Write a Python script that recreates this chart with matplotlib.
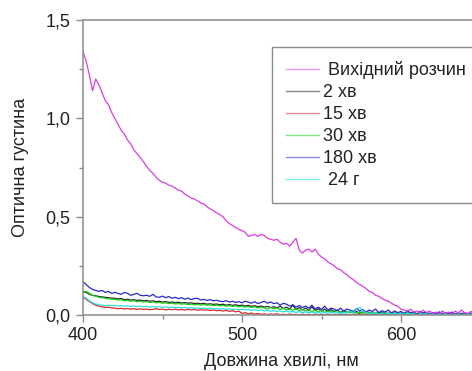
'''
Absorption spectra of the solution over time
'''

import matplotlib
matplotlib.use("Agg")
import matplotlib.pyplot as plt
from matplotlib.ticker import MultipleLocator, FuncFormatter
import numpy as np

##########################################
# data (step 2 nm)

wavelength = np.arange(400, 651, 2)

initial = [1.34, 1.29, 1.22, 1.14, 1.20, 1.17, 1.13, 1.09, 1.07, 1.03,
           1.00, 0.97, 0.94, 0.92, 0.89, 0.87, 0.84, 0.82, 0.80, 0.78,
           0.755, 0.735, 0.72, 0.70, 0.685, 0.675, 0.67, 0.66, 0.655, 0.645,
           0.635, 0.63, 0.615, 0.605, 0.595, 0.59, 0.58, 0.57, 0.565, 0.55,
           0.54, 0.53, 0.52, 0.51, 0.50, 0.48, 0.465, 0.455, 0.445, 0.435,
           0.43, 0.42, 0.40, 0.405, 0.41, 0.40, 0.41, 0.405, 0.39, 0.385,
           0.38, 0.385, 0.37, 0.36, 0.365, 0.35, 0.37, 0.39, 0.33, 0.315,
           0.33, 0.335, 0.32, 0.335, 0.31, 0.295, 0.285, 0.27, 0.26, 0.25,
           0.235, 0.23, 0.215, 0.205, 0.19, 0.18, 0.165, 0.155, 0.145, 0.135,
           0.12, 0.115, 0.10, 0.095, 0.085, 0.075, 0.07, 0.06, 0.05, 0.045,
           0.03, 0.025, 0.02, 0.03, 0.015, 0.02, 0.01, 0.025, 0.012, 0.02,
           0.008, 0.015, 0.005, 0.02, 0.01, 0.015, 0.005, 0.02, 0.01, 0.025,
           0.012, 0.008, 0.018, 0.01, 0.006, 0.012]

min2 = [0.12, 0.115, 0.105, 0.1, 0.098, 0.094, 0.092, 0.09, 0.088, 0.086,
        0.085, 0.082, 0.084, 0.078, 0.08, 0.076, 0.078, 0.074, 0.076, 0.072,
        0.074, 0.07, 0.072, 0.068, 0.07, 0.066, 0.068, 0.064, 0.066, 0.063,
        0.065, 0.061, 0.063, 0.06, 0.062, 0.058, 0.06, 0.057, 0.059, 0.055,
        0.057, 0.054, 0.056, 0.052, 0.055, 0.05, 0.053, 0.049, 0.052, 0.048,
        0.05, 0.046, 0.049, 0.044, 0.047, 0.042, 0.046, 0.04, 0.044, 0.038,
        0.042, 0.036, 0.045, 0.032, 0.04, 0.03, 0.05, 0.028, 0.038, 0.026,
        0.035, 0.024, 0.042, 0.022, 0.032, 0.02, 0.03, 0.018, 0.028, 0.016,
        0.025, 0.014, 0.022, 0.012, 0.02, 0.01, 0.018, 0.008, 0.016, 0.01,
        0.014, 0.006, 0.012, 0.008, 0.015, 0.005, 0.01, 0.007, 0.012, 0.004,
        0.009, 0.005, 0.011, 0.004, 0.008, 0.006, 0.01, 0.003, 0.007, 0.005,
        0.008, 0.003, 0.006, 0.004, 0.009, 0.002, 0.006, 0.004, 0.007, 0.003,
        0.006, 0.002, 0.005, 0.003, 0.006, 0.004]

min15 = [0.09, 0.08, 0.068, 0.058, 0.05, 0.045, 0.042, 0.038, 0.04, 0.036,
         0.035, 0.032, 0.034, 0.031, 0.033, 0.03, 0.032, 0.029, 0.031, 0.028,
         0.03, 0.027, 0.029, 0.032, 0.028, 0.03, 0.026, 0.029, 0.027, 0.03,
         0.026, 0.028, 0.025, 0.029, 0.026, 0.028, 0.024, 0.027, 0.025, 0.026,
         0.023, 0.026, 0.022, 0.025, 0.02, 0.024, 0.018, 0.022, 0.016, 0.02,
         0.008, 0.012, 0.006, 0.01, 0.004, 0.008, 0.003, 0.006, 0.002, 0.005,
         0.003, 0.006, 0.002, 0.004, 0.001, 0.005, 0.002, 0.003, 0.001, 0.004,
         0.002, 0.003, 0.001, 0.004, 0.002, 0.003, 0.001, 0.002, 0.003, 0.001,
         0.002, 0.004, 0.001, 0.002, 0.003, 0.001, 0.002, 0.001, 0.003, 0.002,
         0.001, 0.002, 0.003, 0.001, 0.002, 0.001, 0.003, 0.002, 0.001, 0.002,
         0.001, 0.002, 0.001, 0.003, 0.001, 0.002, 0.001, 0.002, 0.001, 0.002,
         0.001, 0.002, 0.001, 0.002, 0.001, 0.003, 0.001, 0.002, 0.001, 0.002,
         0.001, 0.002, 0.001, 0.002, 0.001, 0.002]

min30 = [0.115, 0.12, 0.11, 0.10, 0.095, 0.09, 0.088, 0.085, 0.082, 0.08,
         0.08, 0.076, 0.078, 0.072, 0.075, 0.07, 0.072, 0.068, 0.07, 0.066,
         0.068, 0.064, 0.066, 0.062, 0.064, 0.06, 0.062, 0.058, 0.06, 0.056,
         0.058, 0.055, 0.057, 0.053, 0.055, 0.052, 0.054, 0.05, 0.053, 0.05,
         0.052, 0.048, 0.05, 0.047, 0.049, 0.045, 0.048, 0.044, 0.046, 0.042,
         0.045, 0.04, 0.043, 0.038, 0.042, 0.035, 0.04, 0.036, 0.03, 0.038,
         0.032, 0.036, 0.028, 0.034, 0.026, 0.03, 0.024, 0.032, 0.022, 0.028,
         0.02, 0.026, 0.018, 0.024, 0.016, 0.025, 0.014, 0.02, 0.015, 0.022,
         0.012, 0.018, 0.01, 0.016, 0.012, 0.02, 0.008, 0.015, 0.01, 0.014,
         0.008, 0.012, 0.006, 0.014, 0.008, 0.012, 0.005, 0.01, 0.016, 0.006,
         0.01, 0.004, 0.012, 0.006, 0.01, 0.003, 0.008, 0.012, 0.005, 0.01,
         0.004, 0.008, 0.003, 0.01, 0.005, 0.008, 0.002, 0.007, 0.004, 0.009,
         0.003, 0.007, 0.004, 0.008, 0.003, 0.006]

min180 = [0.17, 0.155, 0.14, 0.13, 0.125, 0.12, 0.125, 0.115, 0.12, 0.11,
          0.115, 0.11, 0.105, 0.115, 0.11, 0.10, 0.105, 0.11, 0.10, 0.098,
          0.10, 0.095, 0.105, 0.092, 0.09, 0.096, 0.088, 0.094, 0.085, 0.09,
          0.083, 0.088, 0.08, 0.086, 0.078, 0.084, 0.085, 0.076, 0.08, 0.074,
          0.078, 0.072, 0.075, 0.07, 0.068, 0.073, 0.066, 0.07, 0.064, 0.068,
          0.062, 0.07, 0.065, 0.06, 0.068, 0.058, 0.064, 0.07, 0.06, 0.066,
          0.058, 0.062, 0.05, 0.06, 0.055, 0.045, 0.052, 0.04, 0.048, 0.038,
          0.045, 0.035, 0.05, 0.03, 0.04, 0.028, 0.045, 0.025, 0.035, 0.03,
          0.022, 0.035, 0.02, 0.03, 0.025, 0.018, 0.032, 0.02, 0.028, 0.015,
          0.025, 0.018, 0.03, 0.012, 0.022, 0.015, 0.025, 0.01, 0.02, 0.012,
          0.018, 0.008, 0.02, 0.012, 0.015, 0.006, 0.018, 0.01, 0.014, 0.005,
          0.012, 0.008, 0.016, 0.005, 0.012, 0.008, 0.015, 0.004, 0.01, 0.006,
          0.012, 0.005, 0.01, 0.004, 0.008, 0.006]

hours24 = [0.095, 0.085, 0.072, 0.062, 0.056, 0.052, 0.05, 0.048, 0.05, 0.047,
           0.049, 0.046, 0.048, 0.045, 0.047, 0.044, 0.046, 0.043, 0.045, 0.042,
           0.044, 0.041, 0.043, 0.04, 0.042, 0.039, 0.041, 0.038, 0.04, 0.037,
           0.039, 0.036, 0.038, 0.035, 0.037, 0.034, 0.036, 0.033, 0.035, 0.032,
           0.034, 0.031, 0.033, 0.03, 0.032, 0.029, 0.031, 0.028, 0.03, 0.027,
           0.029, 0.026, 0.028, 0.024, 0.027, 0.022, 0.026, 0.02, 0.024, 0.019,
           0.022, 0.018, 0.021, 0.016, 0.02, 0.015, 0.018, 0.013, 0.017, 0.012,
           0.016, 0.011, 0.015, 0.01, 0.014, 0.009, 0.013, 0.008, 0.015, 0.01,
           0.012, 0.008, 0.014, 0.01, 0.02, 0.012, 0.03, 0.038, 0.022, 0.012,
           0.01, 0.006, 0.012, 0.005, 0.009, 0.004, 0.008, 0.005, 0.01, 0.004,
           0.007, 0.003, 0.008, 0.004, 0.006, 0.002, 0.007, 0.004, 0.005, 0.003,
           0.006, 0.002, 0.005, 0.003, 0.006, 0.002, 0.004, 0.003, 0.005, 0.002,
           0.004, 0.002, 0.005, 0.003, 0.004, 0.002]

labels = [" Вихідний розчин", "2 хв", "15 хв", "30 хв", "180 хв", " 24 г"]
colours = ["#dc3ce6", "#2a2a2a", "#e02828", "#18d018", "#2828d0", "#28e0e0"]
series = [initial, min2, min15, min30, min180, hours24]

##########################################

plt.rcParams['font.family'] = ['Liberation Sans', 'DejaVu Sans']
plt.rcParams['font.size'] = 13

fig = plt.figure(figsize=(4.72, 3.71), dpi=100)
# right edge of the axes lies just past the figure, as in the reference crop
ax = fig.add_axes([83/472, 56/371, 397.5/472, 295/371])

# draw the quick-decaying ones first, the initial spectrum on top
for i in [1, 2, 3, 4, 5, 0]:
  ax.plot(wavelength, series[i], color=colours[i], lw=0.9, label=labels[i])

ax.set_xlim(400, 650)
ax.set_ylim(0, 1.5)

ax.xaxis.set_major_locator(MultipleLocator(100))
ax.xaxis.set_minor_locator(MultipleLocator(50))
ax.yaxis.set_major_locator(MultipleLocator(0.5))
ax.yaxis.set_minor_locator(MultipleLocator(0.25))
ax.yaxis.set_major_formatter(FuncFormatter(lambda v, p: ("%.1f" % v).replace(".", ",")))

for s in ax.spines.values():
  s.set_color("#8c8c8c")
  s.set_linewidth(1.1)
ax.tick_params(which="both", direction="out", color="#8c8c8c", labelcolor="#222222", width=1.0)
ax.tick_params(which="major", length=5, pad=4)
ax.tick_params(which="minor", length=3)

ax.set_xlabel("Довжина хвилі, нм", color="#222222", labelpad=6)
ax.set_ylabel("Оптична густина", color="#222222", labelpad=12)

# legend in the original order, handles drawn paler as in the reference
h, l = ax.get_legend_handles_labels()
order = [5, 0, 1, 2, 3, 4]
leg = ax.legend([h[k] for k in order], [l[k] for k in order],
                loc="upper left", bbox_to_anchor=(272/472, 0, 240/472, 1-47/371),
                bbox_transform=fig.transFigure, mode="expand", borderaxespad=0,
                fancybox=False, edgecolor="#8c8c8c", framealpha=1,
                handlelength=1.8, handletextpad=0.22, labelspacing=0.27,
                borderpad=0.8)
leg.get_frame().set_linewidth(1.0)
for t in leg.get_texts():
  t.set_color("#222222")
for ln in leg.legend_handles:
  ln.set_alpha(0.55)
  ln.set_linewidth(1.0)

fig.savefig("out.png", dpi=100)
